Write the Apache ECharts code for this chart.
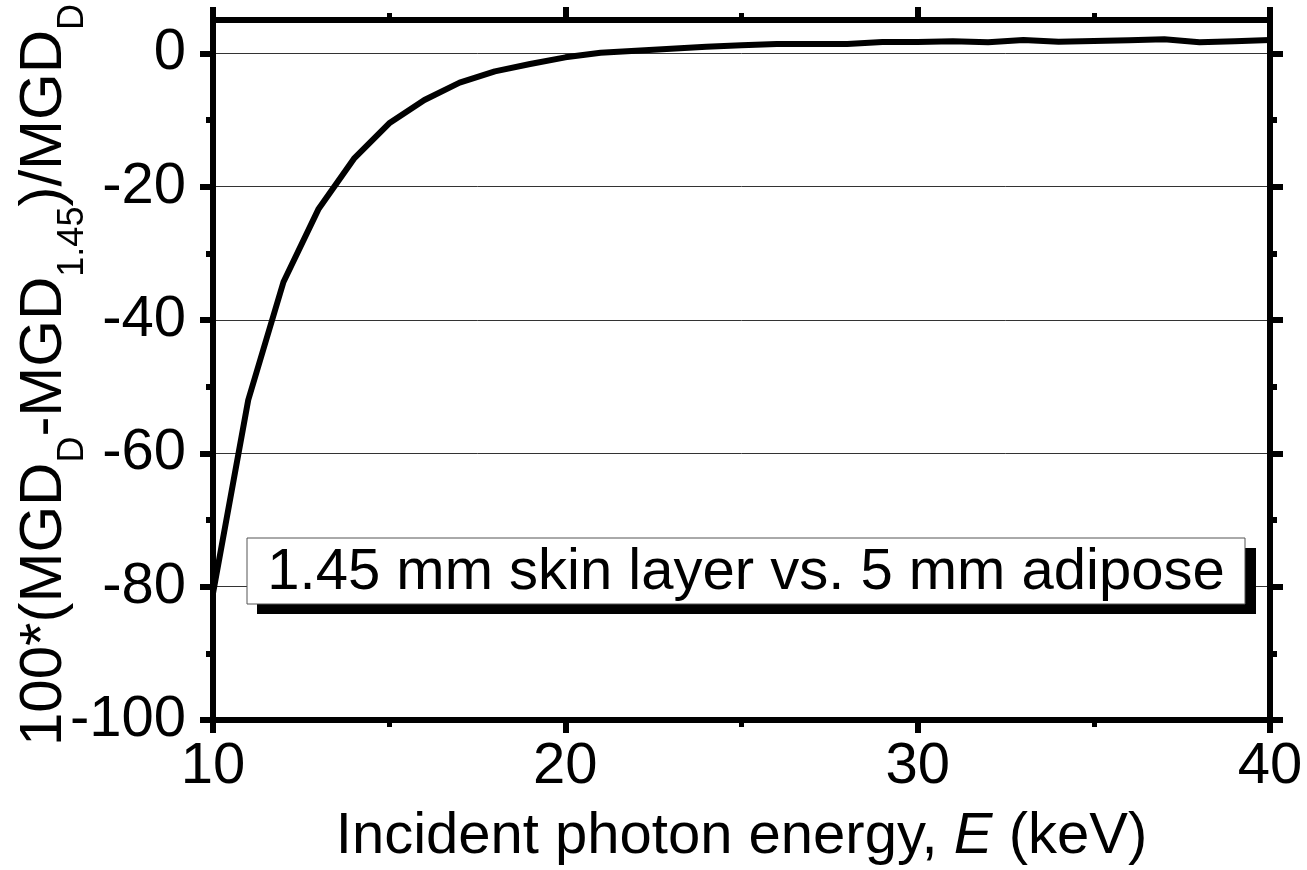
<!DOCTYPE html>
<html>
<head>
<meta charset="utf-8">
<title>MGD skin layer vs adipose</title>
<script src="https://cdn.jsdelivr.net/npm/echarts@6/dist/echarts.min.js"></script>
<style>
  html, body { margin: 0; padding: 0; background: #fff; }
  #chart { width: 1307px; height: 870px; }
</style>
</head>
<body>
<div id="chart"></div>
<script>
// ---------- 数据 ----------
var energies = [10, 11, 12, 13, 14, 15, 16, 17, 18, 19, 20, 21, 22, 23, 24, 25,
                26, 27, 28, 29, 30, 31, 32, 33, 34, 35, 36, 37, 38, 39, 40];
var deviation = [-81, -52, -34.3, -23.3, -15.8, -10.5, -7.0, -4.4, -2.7, -1.6, -0.6,
                 0.1, 0.4, 0.7, 1.0, 1.2, 1.4, 1.4, 1.4, 1.7, 1.7, 1.8, 1.65, 2.0,
                 1.75, 1.85, 1.95, 2.1, 1.65, 1.8, 2.0];
var yMajorTicks = [-100, -80, -60, -40, -20, 0];
var yMinorTicks = [-90, -70, -50, -30, -10];
var boxLabel = '1.45 mm skin layer vs. 5 mm adipose';

(function () {
  'use strict';

  var FONT = '"Liberation Sans", Arial, sans-serif';
  var ink = '#000';

  var points = energies.map(function (e, i) { return [e, deviation[i]]; });

  function xAxisDef(pos, showLabel) {
    return {
      type: 'value',
      position: pos,
      min: 10,
      max: 40,
      interval: 10,
      axisLine: { show: true, onZero: false, lineStyle: { color: ink, width: 6 } },
      axisTick: { show: true, inside: false, length: 13, lineStyle: { color: ink, width: 6 } },
      minorTick: { show: true, splitNumber: 2, length: 7, lineStyle: { color: ink, width: 5 } },
      splitLine: { show: false },
      axisLabel: {
        show: showLabel,
        margin: 18,
        color: ink,
        fontFamily: FONT,
        fontSize: 58,
        lineHeight: 58
      }
    };
  }

  function yAxisDef(pos, ticks, len, main) {
    return {
      type: 'value',
      position: pos,
      min: -100,
      max: 5,
      interval: 20,
      axisLine: { show: main, onZero: false, lineStyle: { color: ink, width: 6 } },
      axisTick: {
        show: true, inside: false, length: len,
        customValues: ticks,
        lineStyle: { color: ink, width: 6 }
      },
      splitLine: { show: false },
      axisLabel: { show: false }
    };
  }

  var yLeft = yAxisDef('left', yMajorTicks, 13, true);
  yLeft.axisLabel = {
    show: true,
    customValues: yMajorTicks,
    margin: 27,
    color: ink,
    fontFamily: FONT,
    fontSize: 58
  };
  yLeft.splitLine = { show: true, lineStyle: { color: '#333', width: 1 } };
  // 纵轴标题：下标用 rich 文本
  yLeft.name = '{n|100*(MGD}{s|D}{n|-MGD}{s|1.45}{n|)/MGD}{e|D}';
  yLeft.nameLocation = 'middle';
  yLeft.nameRotate = 90;
  yLeft.nameGap = 139;
  yLeft.nameMoveOverlap = false;
  yLeft.nameTextStyle = {
    color: ink,
    fontFamily: FONT,
    rich: {
      n: { fontFamily: FONT, fontSize: 60, lineHeight: 60, color: ink },
      s: { fontFamily: FONT, fontSize: 36, lineHeight: 36, padding: [58, 0, 0, 0], color: ink },
      e: { fontFamily: FONT, fontSize: 36, lineHeight: 36, padding: [58, 10, 0, 0], color: ink }
    }
  };

  var xBottom = xAxisDef('bottom', true);
  xBottom.name = '{n|Incident photon energy, }{i|E}{n| (keV)}';
  xBottom.nameLocation = 'middle';
  xBottom.nameGap = 88;
  xBottom.nameMoveOverlap = false;
  xBottom.nameTextStyle = {
    color: ink,
    fontFamily: FONT,
    rich: {
      n: { fontFamily: FONT, fontSize: 58, lineHeight: 58, color: ink },
      i: { fontFamily: FONT, fontSize: 58, lineHeight: 58, fontStyle: 'italic', color: ink }
    }
  };

  var option = {
    animation: false,
    backgroundColor: '#fff',
    grid: { left: 213, right: 37, top: 20, bottom: 150, containLabel: false, outerBoundsMode: 'none' },
    xAxis: [xBottom, xAxisDef('top', false)],
    yAxis: [
      yLeft,
      yAxisDef('left', yMinorTicks, 7, false),
      yAxisDef('right', yMajorTicks, 13, true),
      yAxisDef('right', yMinorTicks, 7, false)
    ],
    series: [
      {
        type: 'line',
        xAxisIndex: 0,
        yAxisIndex: 0,
        data: points,
        showSymbol: false,
        symbol: 'none',
        lineStyle: { color: ink, width: 6, join: 'round' },
        z: 5
      }
    ],
    graphic: [
      // 注释框的阴影
      {
        type: 'rect',
        z: 100,
        shape: { x: 257, y: 548, width: 999, height: 66 },
        style: { fill: '#000' }
      },
      {
        type: 'rect',
        z: 101,
        shape: { x: 247, y: 538, width: 998, height: 66 },
        style: { fill: '#fff', stroke: '#555', lineWidth: 1 }
      },
      {
        type: 'text',
        z: 102,
        x: 746,
        y: 573,
        style: {
          text: boxLabel,
          fill: ink,
          font: '58px ' + FONT,
          textAlign: 'center',
          textVerticalAlign: 'middle'
        }
      }
    ]
  };

  var chart = echarts.init(document.getElementById('chart'));
  chart.setOption(option);
})();
</script>
</body>
</html>
